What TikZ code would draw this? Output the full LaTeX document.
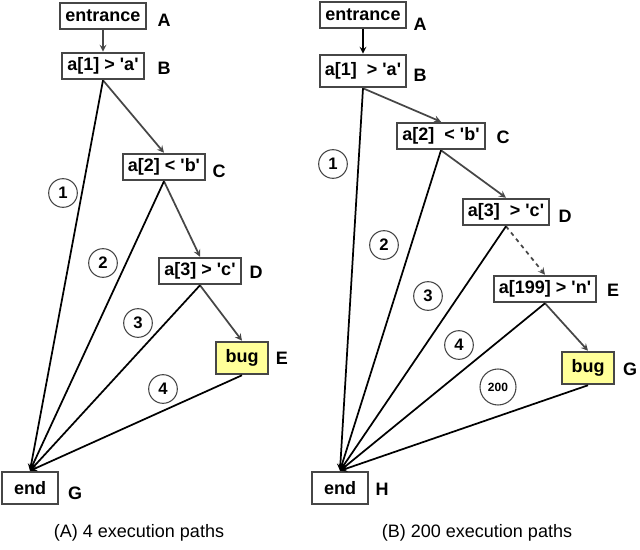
\documentclass[tikz,border=0pt]{standalone}
\usepackage{fontspec}
\setmainfont{Liberation Sans}[Ligatures=TeXOff]
\usepackage{tikz}
\usetikzlibrary{arrows}
\definecolor{boxgray}{RGB}{70,70,70}
\definecolor{bugyellow}{RGB}{255,255,153}

\tikzset{
  box/.style={draw=boxgray, line width=1.4pt, fill=white, inner xsep=4pt, inner ysep=0pt,
    minimum height=20pt, font=\bfseries\fontsize{13.5}{15}\selectfont},
  tallbox/.style={box, minimum height=24.5pt},
  endbox/.style={tallbox, minimum width=42pt},
  bugbox/.style={tallbox, minimum width=39pt, fill=bugyellow},
  lbl/.style={font=\bfseries\fontsize{13.5}{15}\selectfont},
  num/.style={circle, draw=boxgray, line width=0.8pt, minimum size=21.5pt, inner sep=0pt,
    font=\bfseries\fontsize{12.5}{14}\selectfont},
  flow/.style={->, >=stealth, draw=boxgray, line width=1.3pt},
  run/.style={->, >=stealth, black, line width=1.3pt},
  caption/.style={font=\fontsize{13.5}{15}\selectfont}
}

\begin{document}
\begin{tikzpicture}[x=0.75pt,y=-0.75pt]
\useasboundingbox (0,0) rectangle (640,550);
% (A) 4 execution paths
\node[box] (a1) at (103,16) {entrance};
\node[box] (b1) at (103,66) {a[1] > 'a'};
\node[box] (c1) at (164,167) {a[2] < 'b'};
\node[box] (d1) at (200,271) {a[3] > 'c'};
\node[bugbox] (e1) at (242,358) {bug};
\node[endbox] (g1) at (30,488) {end};
\node[lbl] (la1) at (164,20) {A};
\node[lbl] (lb1) at (164,68) {B};
\node[lbl] (lc1) at (219,171) {C};
\node[lbl] (ld1) at (256,272) {D};
\node[lbl] (le1) at (282,358) {E};
\node[lbl] (lg1) at (75,493) {G};
\draw[flow] (a1) -- (b1);
\draw[flow] (b1.south) -- (c1.north);
\draw[flow] (c1.south) -- (d1.north);
\draw[flow] (d1.south) -- (e1.north);
\draw[run] (b1.south) -- (g1.north);
\draw[run] (c1.south) -- (g1.north);
\draw[run] (d1.south) -- (g1.north);
\draw[run] (e1.south) -- (g1.north);
\node[num] (p11) at (63,193) {1};
\node[num] (p12) at (103,263) {2};
\node[num] (p13) at (138,323) {3};
\node[num] (p14) at (163,389) {4};
\node[caption] (capA) at (139,533) {(A) 4 execution paths};
% (B) 200 execution paths
\node[box] (a2) at (363,15) {entrance};
\node[tallbox] (b2) at (363,71) {a[1]\ \ > 'a'};
\node[box] (c2) at (441,136) {a[2]\ \ < 'b'};
\node[box] (d2) at (506,212) {a[3]\ \ > 'c'};
\node[box] (e2) at (545,289) {a[199] > 'n'};
\node[bugbox] (g2) at (588,368) {bug};
\node[endbox] (h2) at (340,488) {end};
\node[lbl] (la2) at (420,24) {A};
\node[lbl] (lb2) at (420,75) {B};
\node[lbl] (lc2) at (503,137) {C};
\node[lbl] (ld2) at (565,216) {D};
\node[lbl] (le2) at (613,290) {E};
\node[lbl] (lg2) at (630,369) {G};
\node[lbl] (lh2) at (382,489) {H};
\draw[run] (a2) -- (b2);
\draw[flow] (b2.south) -- (c2.north);
\draw[flow] (c2.south) -- (d2.north);
\draw[flow, dashed] (d2.south) -- (e2.north);
\draw[flow] (e2.south) -- (g2.north);
\draw[run] (b2.south) -- (h2.north);
\draw[run] (c2.south) -- (h2.north);
\draw[run] (d2.south) -- (h2.north);
\draw[run] (e2.south) -- (h2.north);
\draw[run] (g2.south) -- (h2.north);
\node[num] (p21) at (333,164) {1};
\node[num] (p22) at (384,245) {2};
\node[num] (p23) at (428,296) {3};
\node[num] (p24) at (459,345) {4};
\node[num, minimum size=27pt, font=\bfseries\fontsize{9}{11}\selectfont] (p2n) at (498,387) {200};
\node[caption] (capB) at (477,533) {(B) 200 execution paths};
\end{tikzpicture}
\end{document}
